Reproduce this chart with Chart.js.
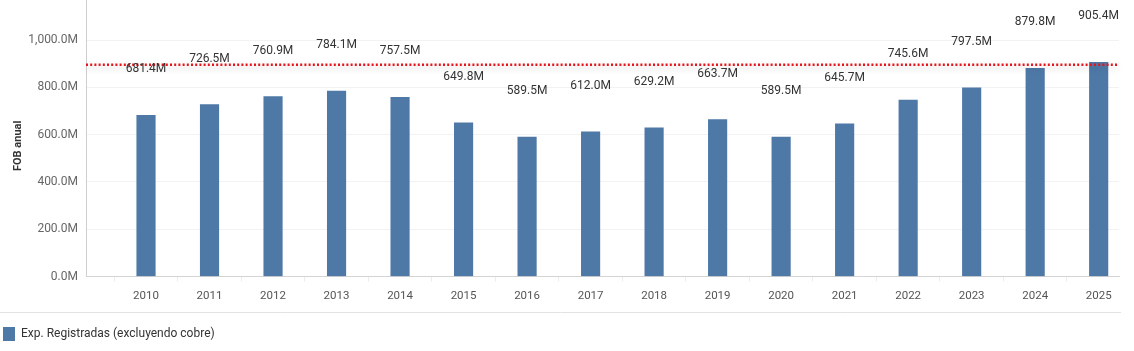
<!DOCTYPE html>
<html>
<head>
<meta charset="utf-8">
<script src="https://cdn.jsdelivr.net/npm/chart.js"></script>
<style>
  html, body { margin: 0; padding: 0; background: #fff; }
  #wrap { width: 1134px; height: 351px; }
</style>
</head>
<body>
<div id="wrap"><canvas id="chart" width="1134" height="351"></canvas></div>
<script>
// values in millions (FOB anual)
const years = [2010, 2011, 2012, 2013, 2014, 2015, 2016, 2017, 2018, 2019, 2020, 2021, 2022, 2023, 2024, 2025];
const fobValues = [681.4, 726.5, 760.9, 784.1, 757.5, 649.8, 589.5, 612.0, 629.2, 663.7, 589.5, 645.7, 745.6, 797.5, 879.8, 905.4];
const yTicks = [0, 200, 400, 600, 800, 1000];
const referenceValue = [895];
const seriesLabel = 'Exp. Registradas (excluyendo cobre)';
const axisTitle = 'FOB anual';

const FONT = 'Roboto, "Open Sans", sans-serif';

// value labels drawn above each bar
const barLabels = {
    id: 'barLabels',
    afterDatasetsDraw(chart) {
        const ctx = chart.ctx;
        const meta = chart.getDatasetMeta(0);
        ctx.save();
        ctx.font = '12px ' + FONT;
        ctx.fillStyle = '#333';
        ctx.textAlign = 'center';
        ctx.textBaseline = 'middle';
        meta.data.forEach((bar, i) => {
            ctx.fillText(fobValues[i].toFixed(1) + 'M', bar.x, bar.y - 46);
        });
        ctx.restore();
    }
};

// dotted red reference line + separator above legend
const extras = {
    id: 'extras',
    beforeDatasetsDraw(chart) {
        const {ctx, chartArea} = chart;
        ctx.save();
        ctx.strokeStyle = '#e2e2e2';
        ctx.lineWidth = 1;
        ctx.beginPath();
        ctx.moveTo(0, 312.5);
        ctx.lineTo(chartArea.right + 2, 312.5);
        ctx.stroke();
        // axis line continues to the top edge
        ctx.strokeStyle = '#cfcfcf';
        ctx.beginPath();
        ctx.moveTo(chartArea.left + 0.5, 0);
        ctx.lineTo(chartArea.left + 0.5, chartArea.top);
        ctx.stroke();
        ctx.restore();
    },
    afterDatasetsDraw(chart) {
        const {ctx, chartArea, scales} = chart;
        const y = scales.y.getPixelForValue(referenceValue[0]);
        ctx.save();
        ctx.shadowColor = 'rgba(0,0,0,0.25)';
        ctx.shadowBlur = 6;
        ctx.shadowOffsetY = 3;
        ctx.strokeStyle = '#e8141b';
        ctx.lineWidth = 2.5;
        ctx.setLineDash([2, 2.2]);
        ctx.beginPath();
        ctx.moveTo(chartArea.left, y);
        ctx.lineTo(chartArea.right, y);
        ctx.stroke();
        ctx.restore();
    }
};

new Chart(document.getElementById('chart'), {
    type: 'bar',
    data: {
        datasets: [{
            label: seriesLabel,
            data: years.map((yr, i) => ({x: yr, y: fobValues[i]})),
            backgroundColor: '#4e79a7',
            borderWidth: 0,
            barThickness: 18.5
        }]
    },
    options: {
        responsive: false,
        animation: false,
        layout: { padding: { top: 0, right: 15, bottom: 0, left: 0 } },
        plugins: {
            legend: {
                position: 'bottom',
                align: 'start',
                labels: {
                    boxWidth: 12,
                    boxHeight: 14,
                    padding: 3,
                    color: '#333',
                    font: { family: FONT, size: 12 }
                }
            },
            tooltip: { enabled: false }
        },
        scales: {
            x: {
                type: 'linear',
                offset: false,
                min: 2009.055,
                max: 2025.32,
                afterFit(scale) { scale.height = 47.5; },
                afterBuildTicks(scale) { scale.ticks = years.map(v => ({value: v})); },
                border: { color: '#d4d4d4' },
                grid: { drawOnChartArea: false, tickLength: 5, color: '#ececec' },
                ticks: {
                    autoSkip: false,
                    maxRotation: 0,
                    padding: 8,
                    color: '#555',
                    font: { family: FONT, size: 11.5 },
                    callback: v => String(v)
                }
            },
            y: {
                min: 0,
                max: 1105,
                afterFit(scale) { scale.width = 86; },
                afterBuildTicks(scale) { scale.ticks = yTicks.map(v => ({value: v})); },
                border: { color: '#cfcfcf' },
                grid: { color: '#f2f2f2', drawTicks: false },
                title: {
                    display: true,
                    text: axisTitle,
                    color: '#333',
                    font: { family: FONT, size: 11, weight: 'bold' },
                    padding: { top: 12, bottom: 0 }
                },
                ticks: {
                    padding: 8,
                    color: '#666',
                    font: { family: FONT, size: 12 },
                    callback: v => v.toLocaleString('en-US', {minimumFractionDigits: 1, maximumFractionDigits: 1}) + 'M'
                }
            }
        }
    },
    plugins: [extras, barLabels]
});
</script>
</body>
</html>
